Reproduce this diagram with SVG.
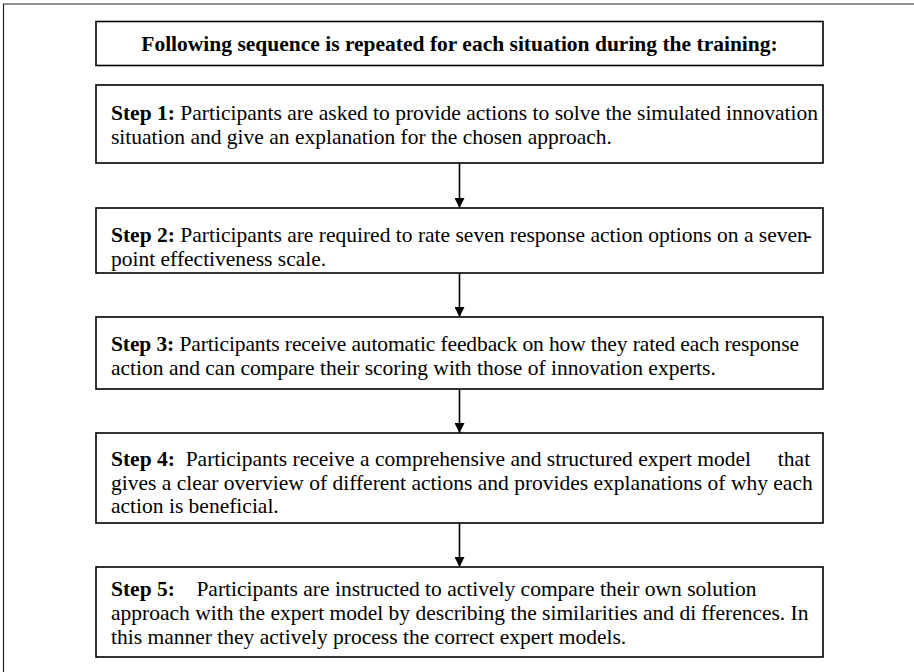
<svg xmlns="http://www.w3.org/2000/svg" width="914" height="672" viewBox="0 0 914 672">
<defs>
<style>
.box{fill:#fff;stroke:#000;stroke-width:1.6}
.conn{stroke:#000;stroke-width:1.6;fill:none}
</style>
<marker id="ah" viewBox="0 0 10 10" refX="10" refY="5" markerWidth="10" markerHeight="10" markerUnits="userSpaceOnUse" orient="auto">
<path d="M0,0 L10,5 L0,10 z" fill="#000"/>
</marker>
</defs>
<rect width="914" height="672" fill="#fff"/>
<path d="M3.5,672 V4 H914" fill="none" stroke="#222" stroke-width="1.2"/>
<g font-family="Liberation Serif, Times New Roman, serif" font-size="21.5" fill="#000">
<g id="header">
<rect class="box" x="96" y="21.5" width="727" height="44"/>
<text x="459.5" y="51" text-anchor="middle" font-weight="bold">Following sequence is repeated for each situation during the training:</text>
</g>
<g id="step1">
<rect class="box" x="96" y="85" width="727" height="78"/>
<text x="111" y="120"><tspan font-weight="bold">Step 1:</tspan> Participants are asked to provide actions to solve the simulated innovation</text>
<text x="111" y="144">situation and give an explanation for the chosen approach.</text>
</g>
<g id="step2">
<rect class="box" x="96" y="208" width="727" height="65"/>
<text x="111" y="242"><tspan font-weight="bold">Step 2:</tspan> Participants are required to rate seven response action options on a seven<tspan dx="-3">-</tspan></text>
<text x="111" y="266">point effectiveness scale.</text>
</g>
<g id="step3">
<rect class="box" x="96" y="317" width="727" height="72"/>
<text x="111" y="351" textLength="688" lengthAdjust="spacing"><tspan font-weight="bold">Step 3:</tspan> Participants receive automatic feedback on how they rated each response</text>
<text x="111" y="375">action and can compare their scoring with those of innovation experts.</text>
</g>
<g id="step4">
<rect class="box" x="96" y="433" width="727" height="90"/>
<text x="111" y="466" xml:space="preserve"><tspan font-weight="bold">Step 4:</tspan>  Participants receive a comprehensive and structured expert model     that</text>
<text x="111" y="490">gives a clear overview of different actions and provides explanations of why each</text>
<text x="111" y="513">action is beneficial.</text>
</g>
<g id="step5">
<rect class="box" x="96" y="567" width="727" height="90"/>
<text x="111" y="596" xml:space="preserve"><tspan font-weight="bold">Step 5:</tspan>    Participants are instructed to actively compare their own solution</text>
<text x="111" y="620">approach with the expert model by describing the similarities and di fferences. In</text>
<text x="111" y="644">this manner they actively process the correct expert models.</text>
</g>
</g>
<g id="connectors">
<line class="conn" x1="459.5" y1="163" x2="459.5" y2="208" marker-end="url(#ah)"/>
<line class="conn" x1="459.5" y1="273" x2="459.5" y2="317" marker-end="url(#ah)"/>
<line class="conn" x1="459.5" y1="389" x2="459.5" y2="433" marker-end="url(#ah)"/>
<line class="conn" x1="459.5" y1="523" x2="459.5" y2="567" marker-end="url(#ah)"/>
</g>
</svg>
